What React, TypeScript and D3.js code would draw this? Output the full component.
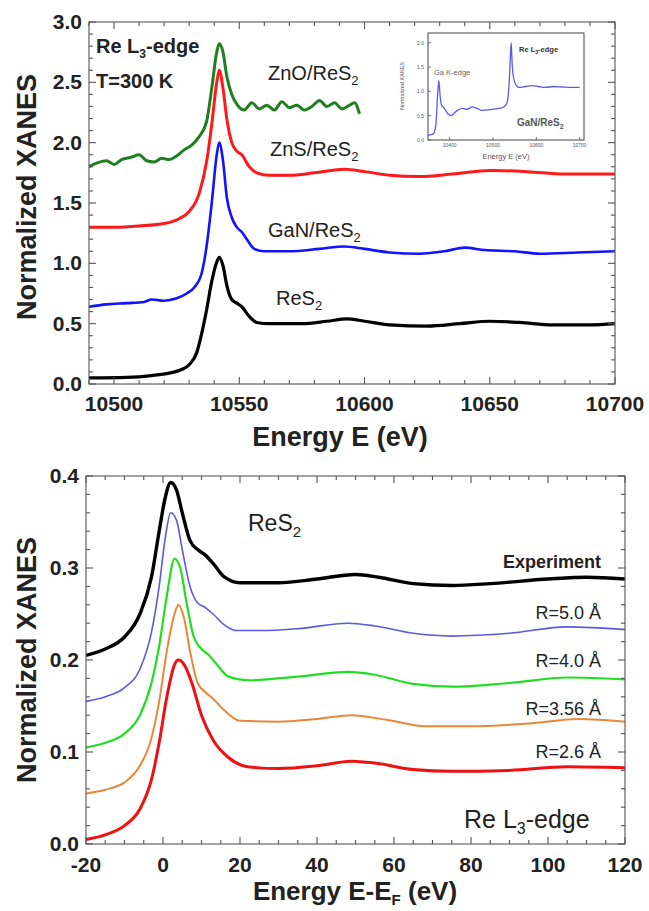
import React from "react";
import * as d3 from "d3";

// ---------- Top panel data (energy eV, normalized XANES) ----------
const ZNO_RES2: [number, number][] = [
  [10490, 1.8], [10493, 1.83], [10497, 1.85], [10500, 1.82], [10503, 1.86], [10507, 1.88], [10510, 1.9],
  [10513, 1.85], [10516, 1.84], [10519, 1.87], [10522, 1.86], [10525, 1.89], [10528, 1.94], [10531, 1.98],
  [10534, 2.05], [10537, 2.18], [10539, 2.45], [10541, 2.75], [10542, 2.82], [10543.5, 2.75], [10545, 2.55],
  [10547, 2.4], [10549, 2.32], [10552, 2.27], [10555, 2.33], [10558, 2.28], [10561, 2.31], [10564, 2.27],
  [10567, 2.34], [10570, 2.29], [10573, 2.31], [10576, 2.27], [10579, 2.3], [10582, 2.35], [10585, 2.3],
  [10588, 2.33], [10591, 2.28], [10594, 2.31], [10596, 2.33], [10598, 2.24],
];
const ZNS_RES2: [number, number][] = [
  [10490, 1.3], [10500, 1.3], [10510, 1.31], [10520, 1.33], [10526, 1.37], [10530, 1.43], [10534, 1.58],
  [10537, 1.85], [10539, 2.15], [10541, 2.5], [10542, 2.6], [10543.5, 2.45], [10545, 2.2], [10547, 2.0],
  [10549, 1.93], [10551, 1.9], [10554, 1.8], [10557, 1.75], [10562, 1.73], [10570, 1.73], [10580, 1.75],
  [10592, 1.78], [10600, 1.76], [10610, 1.73], [10622, 1.72], [10635, 1.74], [10650, 1.77], [10665, 1.76],
  [10680, 1.74], [10700, 1.74],
];
const GAN_RES2: [number, number][] = [
  [10490, 0.64], [10497, 0.66], [10505, 0.67], [10512, 0.68], [10515, 0.7], [10520, 0.69], [10525, 0.71],
  [10529, 0.75], [10532, 0.8], [10535, 0.92], [10537, 1.15], [10539, 1.5], [10541, 1.9], [10542, 2.0],
  [10543.5, 1.85], [10545, 1.55], [10547, 1.38], [10549, 1.3], [10551, 1.26], [10553, 1.2], [10556, 1.12],
  [10560, 1.1], [10570, 1.1], [10582, 1.12], [10592, 1.14], [10600, 1.12], [10610, 1.09], [10622, 1.08],
  [10632, 1.1], [10640, 1.13], [10648, 1.11], [10660, 1.1], [10670, 1.08], [10685, 1.09], [10700, 1.1],
];
const RES2_TOP: [number, number][] = [
  [10490, 0.05], [10505, 0.055], [10515, 0.07], [10522, 0.09], [10527, 0.12], [10530, 0.16], [10533, 0.26],
  [10535, 0.42], [10537, 0.62], [10539, 0.85], [10541, 1.01], [10542, 1.05], [10543.5, 0.98], [10545, 0.82],
  [10547, 0.7], [10549, 0.67], [10551, 0.64], [10554, 0.56], [10557, 0.51], [10562, 0.5], [10575, 0.5],
  [10585, 0.52], [10593, 0.54], [10600, 0.52], [10610, 0.49], [10625, 0.48], [10638, 0.5], [10650, 0.52],
  [10662, 0.51], [10675, 0.49], [10690, 0.49], [10700, 0.5],
];
const INSET_GAN: [number, number][] = [
  [10350, 0.1], [10362, 0.12], [10368, 0.3], [10372, 0.9], [10375, 1.22], [10378, 0.9], [10381, 0.72],
  [10385, 0.68], [10390, 0.62], [10396, 0.54], [10403, 0.5], [10410, 0.55], [10420, 0.62], [10430, 0.65],
  [10440, 0.63], [10452, 0.68], [10463, 0.65], [10475, 0.61], [10490, 0.62], [10505, 0.64], [10520, 0.66],
  [10530, 0.72], [10535, 0.9], [10538, 1.3], [10540, 1.7], [10542, 2.0], [10544, 1.6], [10547, 1.3],
  [10552, 1.15], [10560, 1.08], [10575, 1.1], [10590, 1.12], [10605, 1.1], [10620, 1.08], [10640, 1.1],
  [10660, 1.09], [10680, 1.08], [10700, 1.08],
];

// ---------- Bottom panel data (E-EF eV, normalized XANES) ----------
const EXPERIMENT: [number, number][] = [
  [-20, 0.205], [-15, 0.212], [-10, 0.225], [-6, 0.25], [-3, 0.29], [-1, 0.34], [0.5, 0.375], [2, 0.393],
  [3.5, 0.385], [5, 0.36], [7, 0.33], [9, 0.32], [11, 0.314], [13, 0.305], [16, 0.29], [20, 0.284], [30, 0.284],
  [40, 0.288], [50, 0.293], [56, 0.29], [65, 0.283], [75, 0.281], [85, 0.283], [100, 0.288], [110, 0.29], [120, 0.288],
];
const R50: [number, number][] = [
  [-20, 0.155], [-15, 0.16], [-10, 0.17], [-6, 0.19], [-3, 0.23], [-1, 0.28], [0.5, 0.33], [2, 0.36],
  [3.5, 0.352], [5, 0.32], [7, 0.28], [9, 0.262], [11, 0.257], [13, 0.25], [16, 0.238], [19, 0.232], [25, 0.232],
  [35, 0.234], [48, 0.24], [55, 0.237], [65, 0.229], [75, 0.226], [90, 0.229], [105, 0.236], [120, 0.233],
];
const R40: [number, number][] = [
  [-20, 0.105], [-15, 0.11], [-10, 0.12], [-6, 0.14], [-3, 0.175], [-1, 0.215], [1, 0.27], [3, 0.31],
  [4.5, 0.3], [6, 0.265], [8, 0.225], [10, 0.212], [12, 0.205], [14, 0.195], [17, 0.182], [22, 0.178],
  [35, 0.182], [48, 0.187], [55, 0.184], [65, 0.174], [75, 0.171], [90, 0.175], [105, 0.181], [120, 0.179],
];
const R356: [number, number][] = [
  [-20, 0.055], [-15, 0.059], [-10, 0.067], [-6, 0.085], [-3, 0.115], [-1, 0.155], [1, 0.21], [3, 0.25],
  [4, 0.26], [5.5, 0.245], [7, 0.21], [9, 0.175], [11, 0.165], [13, 0.158], [16, 0.145], [20, 0.134],
  [30, 0.133], [40, 0.136], [49, 0.14], [58, 0.135], [68, 0.128], [80, 0.128], [95, 0.131], [108, 0.136], [120, 0.133],
];
const R26: [number, number][] = [
  [-20, 0.005], [-15, 0.01], [-10, 0.02], [-6, 0.038], [-3, 0.07], [-1, 0.11], [1, 0.16], [3, 0.195],
  [4, 0.2], [5.5, 0.195], [7.5, 0.175], [10, 0.14], [13, 0.113], [17, 0.094], [22, 0.084], [30, 0.082],
  [40, 0.085], [49, 0.09], [55, 0.088], [65, 0.081], [75, 0.079], [90, 0.08], [105, 0.084], [120, 0.083],
];

const TOP_X_TICKS = [10500, 10550, 10600, 10650, 10700];
const TOP_Y_TICKS = [0, 0.5, 1.0, 1.5, 2.0, 2.5, 3.0];
const BOT_X_TICKS = [-20, 0, 20, 40, 60, 80, 100, 120];
const BOT_Y_TICKS = [0, 0.1, 0.2, 0.3, 0.4];
const INSET_X_TICKS = [10400, 10500, 10600, 10700];
const INSET_Y_TICKS = [0, 0.5, 1.0, 1.5, 2.0];

const FONT = "'Liberation Sans', Arial, sans-serif";

type Scale = d3.ScaleLinear<number, number>;

function Frame({ x, y, major, minorX, minorY, majLen, minLen, stroke, sw }: {
  x: Scale; y: Scale; major: [number[], number[]]; minorX: number[]; minorY: number[];
  majLen: number; minLen: number; stroke: string; sw: number;
}) {
  const [x0, x1] = x.range();
  const [y0, y1] = y.range();
  const els: React.ReactNode[] = [];
  const mx = new Set(major[0].map((v) => v.toFixed(4)));
  const my = new Set(major[1].map((v) => v.toFixed(4)));
  minorX.forEach((v, i) => {
    const L = mx.has(v.toFixed(4)) ? majLen : minLen;
    const px = x(v);
    els.push(<line key={"bx" + i} x1={px} x2={px} y1={y0} y2={y0 - L} stroke={stroke} strokeWidth={sw} />);
    els.push(<line key={"tx" + i} x1={px} x2={px} y1={y1} y2={y1 + L} stroke={stroke} strokeWidth={sw} />);
  });
  minorY.forEach((v, i) => {
    const L = my.has(v.toFixed(4)) ? majLen : minLen;
    const py = y(v);
    els.push(<line key={"ly" + i} x1={x0} x2={x0 + L} y1={py} y2={py} stroke={stroke} strokeWidth={sw} />);
    els.push(<line key={"ry" + i} x1={x1} x2={x1 - L} y1={py} y2={py} stroke={stroke} strokeWidth={sw} />);
  });
  return (
    <g>
      <rect x={x0} y={y1} width={x1 - x0} height={y0 - y1} fill="none" stroke={stroke} strokeWidth={sw} />
      {els}
    </g>
  );
}

function range(a: number, b: number, s: number) {
  const out: number[] = [];
  for (let i = 0; a + i * s <= b + 1e-9; i++) out.push(+(a + i * s).toFixed(6));
  return out;
}

export default function App() {
  const tx = d3.scaleLinear().domain([10490, 10700]).range([89, 615]);
  const ty = d3.scaleLinear().domain([0, 3.0]).range([384, 22]);
  const bx = d3.scaleLinear().domain([-20, 120]).range([86, 625]);
  const by = d3.scaleLinear().domain([0, 0.4]).range([844, 476]);
  const ix = d3.scaleLinear().domain([10350, 10710]).range([428, 584]);
  const iy = d3.scaleLinear().domain([0, 2.2]).range([140, 33]);

  const lineT = d3.line<[number, number]>().x((d) => tx(d[0])).y((d) => ty(d[1])).curve(d3.curveMonotoneX);
  const lineB = d3.line<[number, number]>().x((d) => bx(d[0])).y((d) => by(d[1])).curve(d3.curveMonotoneX);
  const lineI = d3.line<[number, number]>().x((d) => ix(d[0])).y((d) => iy(d[1])).curve(d3.curveMonotoneX);

  const f1 = d3.format(".1f");

  return (
    <svg width={649} height={911} style={{ display: "block", position: "absolute", left: 0, top: 0 }} fontFamily={FONT}>
      <rect width={649} height={911} fill="#fff" />
      <defs>
        <clipPath id="clipTop"><rect x={89} y={22} width={526} height={362} /></clipPath>
        <clipPath id="clipBot"><rect x={86} y={476} width={539} height={368} /></clipPath>
      </defs>

      {/* ================= TOP PANEL ================= */}
      <g clipPath="url(#clipTop)">
        <path d={lineT(ZNO_RES2) || ""} fill="none" stroke="#1f7f1f" strokeWidth={3} />
        <path d={lineT(ZNS_RES2) || ""} fill="none" stroke="#ff1a1a" strokeWidth={3} />
        <path d={lineT(GAN_RES2) || ""} fill="none" stroke="#1212ff" strokeWidth={2.6} />
        <path d={lineT(RES2_TOP) || ""} fill="none" stroke="#000" strokeWidth={3.2} />
      </g>
      <Frame x={tx} y={ty} major={[TOP_X_TICKS, TOP_Y_TICKS]} minorX={range(10490, 10700, 10)}
        minorY={range(0, 3, 0.1)} majLen={7} minLen={4} stroke="#555" sw={1.1} />
      {TOP_X_TICKS.map((v) => (
        <text key={"tx" + v} x={tx(v)} y={411} textAnchor="middle" fontSize={21} fontWeight="bold" fill="#222">{String(v)}</text>
      ))}
      {TOP_Y_TICKS.map((v) => (
        <text key={"ty" + v} x={82} y={ty(v) + 7} textAnchor="end" fontSize={21} fontWeight="bold" fill="#222">{f1(v)}</text>
      ))}
      <text x={340} y={446} textAnchor="middle" fontSize={27} fontWeight="bold" fill="#222">Energy E (eV)</text>
      <text transform="translate(36,197) rotate(-90)" textAnchor="middle" fontSize={27} fontWeight="bold" fill="#222">Normalized XANES</text>

      <text x={96} y={53} fontSize={20} fontWeight="bold" fill="#222">Re L<tspan fontSize={12} dy={5}>3</tspan><tspan dy={-5}>-edge</tspan></text>
      <text x={96} y={88} fontSize={20} fontWeight="bold" fill="#222">T=300 K</text>
      <text x={268} y={80} fontSize={20} fill="#222">ZnO/ReS<tspan fontSize={13} dy={5}>2</tspan></text>
      <text x={270} y={156} fontSize={20} fill="#222">ZnS/ReS<tspan fontSize={13} dy={5}>2</tspan></text>
      <text x={268} y={237} fontSize={20} fill="#222">GaN/ReS<tspan fontSize={13} dy={5}>2</tspan></text>
      <text x={276} y={305} fontSize={20} fill="#222">ReS<tspan fontSize={13} dy={5}>2</tspan></text>

      {/* ---------- inset ---------- */}
      <rect x={428} y={33} width={156} height={107} fill="#fff" stroke="#444" strokeWidth={1} />
      <path d={lineI(INSET_GAN) || ""} fill="none" stroke="#5a5aee" strokeWidth={1.3} />
      {INSET_X_TICKS.map((v) => (
        <g key={"ix" + v}>
          <line x1={ix(v)} x2={ix(v)} y1={140} y2={137} stroke="#444" strokeWidth={0.7} />
          <text x={ix(v)} y={147} textAnchor="middle" fontSize={5} fill="#555">{String(v)}</text>
        </g>
      ))}
      {INSET_Y_TICKS.map((v) => (
        <g key={"iy" + v}>
          <line x1={428} x2={431} y1={iy(v)} y2={iy(v)} stroke="#444" strokeWidth={0.7} />
          <text x={424} y={iy(v) + 2} textAnchor="end" fontSize={5} fill="#555">{f1(v)}</text>
        </g>
      ))}
      <text x={506} y={159} textAnchor="middle" fontSize={7.5} fill="#555">Energy E (eV)</text>
      <text transform="translate(404,86) rotate(-90)" textAnchor="middle" fontSize={5.5} fill="#555">Normalized XANES</text>
      <text x={434} y={75} fontSize={7.5} fill="#666">Ga K-edge</text>
      <text x={519} y={52} fontSize={7.5} fontWeight="bold" fill="#333">Re L<tspan fontSize={5} dy={2}>3</tspan><tspan dy={-2}>-edge</tspan></text>
      <text x={517} y={126} fontSize={10} fontWeight="bold" fill="#555">GaN/ReS<tspan fontSize={7} dy={3}>2</tspan></text>

      {/* ================= BOTTOM PANEL ================= */}
      <g clipPath="url(#clipBot)">
        <path d={lineB(R26) || ""} fill="none" stroke="#ee1111" strokeWidth={3} />
        <path d={lineB(R356) || ""} fill="none" stroke="#e8873a" strokeWidth={2} />
        <path d={lineB(R40) || ""} fill="none" stroke="#22dd22" strokeWidth={2.2} />
        <path d={lineB(R50) || ""} fill="none" stroke="#5a5ae0" strokeWidth={1.6} />
        <path d={lineB(EXPERIMENT) || ""} fill="none" stroke="#000" strokeWidth={3.4} />
      </g>
      <Frame x={bx} y={by} major={[BOT_X_TICKS, BOT_Y_TICKS]} minorX={range(-20, 120, 5)}
        minorY={range(0, 0.4, 0.02)} majLen={7} minLen={4} stroke="#555" sw={1.1} />
      {BOT_X_TICKS.map((v) => (
        <text key={"bx" + v} x={bx(v)} y={872} textAnchor="middle" fontSize={21} fontWeight="bold" fill="#222">{String(v)}</text>
      ))}
      {BOT_Y_TICKS.map((v) => (
        <text key={"by" + v} x={79} y={by(v) + 7} textAnchor="end" fontSize={21} fontWeight="bold" fill="#222">{f1(v)}</text>
      ))}
      <text x={355} y={900} textAnchor="middle" fontSize={26} fontWeight="bold" fill="#222">Energy E-E<tspan fontSize={15} dy={5}>F</tspan><tspan dy={-5}> (eV)</tspan></text>
      <text transform="translate(36,660) rotate(-90)" textAnchor="middle" fontSize={27} fontWeight="bold" fill="#222">Normalized XANES</text>

      <text x={248} y={531} fontSize={23} fill="#222">ReS<tspan fontSize={15} dy={6}>2</tspan></text>
      <text x={601} y={568} textAnchor="end" fontSize={18} fontWeight="bold" fill="#222">Experiment</text>
      <text x={601} y={619} textAnchor="end" fontSize={18} fill="#222">R=5.0 Å</text>
      <text x={601} y={667} textAnchor="end" fontSize={18} fill="#222">R=4.0 Å</text>
      <text x={601} y={715} textAnchor="end" fontSize={18} fill="#222">R=3.56 Å</text>
      <text x={601} y={758} textAnchor="end" fontSize={18} fill="#222">R=2.6 Å</text>
      <text x={464} y={828} fontSize={25} fill="#222">Re L<tspan fontSize={16} dy={6}>3</tspan><tspan dy={-6}>-edge</tspan></text>
    </svg>
  );
}
